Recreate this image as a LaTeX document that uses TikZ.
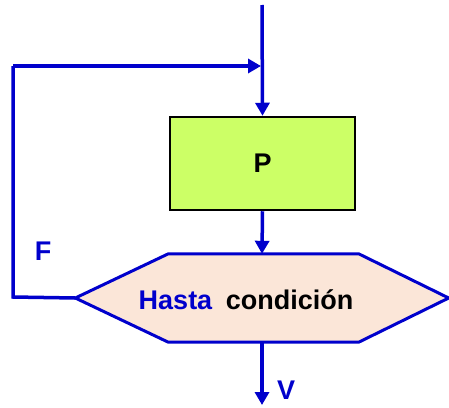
\documentclass[tikz,border=0pt]{standalone}
\usepackage{fontspec}
\setmainfont{Liberation Sans}
\usetikzlibrary{arrows.meta,calc}
\definecolor{flowblue}{RGB}{0,0,204}
\definecolor{boxgreen}{RGB}{204,255,102}
\definecolor{hexfill}{RGB}{251,230,216}
\tikzset{
  flow/.style={draw=flowblue,line width=3.5pt},
  arr/.style={flow,-{Triangle[length=13pt,width=14pt]}},
  procbox/.style={draw=black,line width=2.5pt,fill=boxgreen,minimum width=185pt,minimum height=93pt,inner sep=0pt,font=\bfseries\fontsize{27}{30}\selectfont},
  hexnode/.style={minimum width=373pt,minimum height=88pt,inner sep=0pt},
  hexline/.style={draw=flowblue,line width=3pt,fill=hexfill,line join=miter},
  lbl/.style={text=flowblue,font=\bfseries\fontsize{27}{30}\selectfont,inner sep=0pt},
  condtext/.style={font=\bfseries\fontsize{27}{30}\selectfont,inner sep=0pt}
}
\begin{document}
\begin{tikzpicture}[x=1pt,y=-1pt]
\useasboundingbox (0,0) rectangle (449,407);
\coordinate (top) at (262,5);
\coordinate (join) at (261,66);
\coordinate (lt) at (13,66);
\coordinate (lb) at (13,297);
\coordinate (end) at (262,405);
\node[procbox] (box) at (262.5,163.5) {P};
\node[hexnode] (cond) at (262,298) {};
\path[hexline] (cond.west) -- ($(cond.north west)+(93,0)$) -- ($(cond.north east)+(-90,0)$) -- (cond.east) -- ($(cond.south east)+(-90,0)$) -- ($(cond.south west)+(93,0)$) -- cycle;
\node[condtext] (ct) at (246,300) {\textcolor{flowblue}{Hasta}\hspace{0.5em}condición};
\draw[arr] (top) -- (box.north);
\draw[arr] (box.south) -- (cond.north);
\draw[flow] (cond.west) -- (lb) -- (lt);
\draw[arr] (lt) -- (join);
\draw[arr] (cond.south) -- (end);
\node[lbl] (f) at (43,251) {F};
\node[lbl] (v) at (286,390) {V};
\end{tikzpicture}
\end{document}
